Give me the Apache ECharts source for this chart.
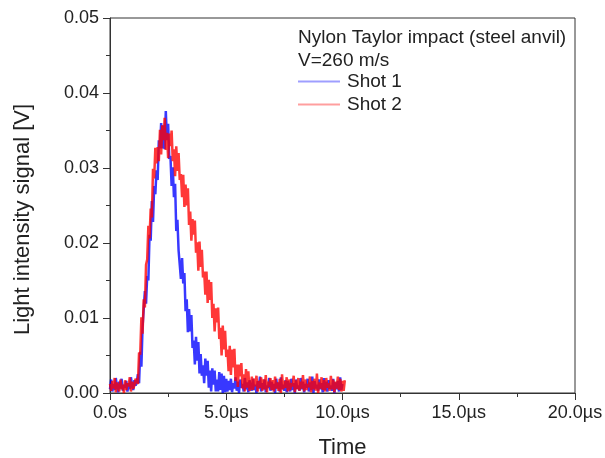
<!DOCTYPE html>
<html>
<head>
<meta charset="utf-8">
<script src="https://cdn.jsdelivr.net/npm/echarts@6/dist/echarts.min.js"></script>
<style>
html,body{margin:0;padding:0;background:#fff;}
#chart{width:605px;height:458px;}
</style>
</head>
<body>
<div id="chart"></div>
<script>
// Sample interval of the recorded signals, in microseconds
const sampleInterval = 0.05;
// Shot 1 signal, mV, one value per sample starting at t = 0
const shot1 = [
0.5,1.8,0.2,1.2,0.4,2.0,0.8,0.1,1.5,0.6,1.9,0.3,1.1,0.7,1.6,0.2,1.3,0.5,2.1,0.9,0.4,1.7,1.0,1.4,
2.5,1.3,5.5,3.5,8.8,8.6,13.6,11.9,15.6,15.0,21.1,20.3,25.6,22.8,27.6,26.5,
29.7,28.4,33.7,32.6,36.0,32.6,35.7,32.5,37.6,33.7,35.9,31.2,31.6,27.6,30.1,26.1,27.9,21.6,23.1,19.0,
19.2,15.2,18.0,14.6,16.0,10.9,12.5,8.1,11.2,8.2,10.4,6.0,7.0,3.8,7.5,4.3,6.8,2.6,5.2,2.3,
3.7,1.3,4.6,2.3,4.3,0.7,3.0,0.2,3.3,1.1,3.0,0.2,1.8,0.2,2.8,0.4,2.6,0.0,2.3,0.1,1.9,
0.2,1.6,0.4,1.9,0.1,1.3,0.6,2.1,0.3,1.5,
0.0,1.8,0.7,1.2,0.2,2.0,0.5,1.4,0.1,1.7,
0.8,0.3,1.9,0.4,1.1,0.0,1.6,0.6,2.2,0.2,
1.3,0.5,1.8,0.1,1.0,0.7,2.0,0.3,1.5,0.4,
1.2,0.0,1.9,0.6,1.4,0.2,2.1,0.5,1.1,0.3,
1.7,0.1,1.6,0.8,0.2,1.9,0.4,1.3,0.0,1.8,
0.6,1.0,0.3,2.0,0.5,1.5,0.1,1.2,0.7,1.9,
0.2,1.4,0.4,2.2,0.0,1.6,0.6,1.1,0.3,1.8,
0.5,1.3,0.1,2.0,0.4,1.5,0.2,1.7,0.6,1.0,
0.3,1.9,0.0,1.4,0.5,1.6,0.2,2.1,0.4,1.2
];
// Shot 2 signal, mV, one value per sample starting at t = 0
const shot2 = [
1.2,0.3,1.6,0.6,2.0,0.1,1.4,0.8,0.2,1.8,0.5,1.1,0.0,1.7,0.4,1.3,0.9,2.1,0.2,1.5,0.6,1.0,1.9,
2.0,1.2,5.4,5.1,10.1,7.9,12.5,11.4,17.1,17.8,22.3,20.6,24.6,23.4,29.9,28.6,32.7,
30.6,32.8,30.9,35.1,31.8,35.7,33.7,36.7,32.4,34.7,31.3,34.6,32.9,35.0,30.9,32.5,28.9,32.9,29.6,32.0,
28.4,29.2,26.1,29.1,24.8,27.8,25.0,27.3,22.4,24.2,20.3,23.2,21.1,23.0,18.7,20.1,16.3,20.2,16.8,19.1,
15.4,16.2,13.1,16.2,12.0,15.1,12.4,14.8,10.0,11.9,8.2,11.3,9.4,11.4,7.2,8.7,5.0,9.0,5.8,8.3,
4.8,5.8,2.9,6.3,2.4,5.8,3.4,5.9,1.6,3.8,0.8,3.8,2.2,4.0,0.6,2.5,0.2,3.2,0.7,2.9,0.3,
0.6,2.2,0.4,1.9,0.9,2.3,0.2,1.6,0.7,2.1,
0.3,1.8,0.5,2.4,0.1,1.5,0.8,2.0,0.4,1.7,
0.2,2.2,0.6,1.4,0.3,1.9,0.0,2.5,0.5,1.6,
0.7,2.1,0.2,1.8,0.4,1.3,0.9,2.3,0.1,1.7,
0.5,2.0,0.3,1.5,0.6,2.4,0.2,1.8,0.4,1.2,
0.8,2.2,0.1,1.6,0.5,1.9,0.3,2.6,0.0,1.4,
0.6,2.1,0.4,1.7,0.2,2.0,0.7,1.3,0.3,2.3,
0.5,1.8,0.1,1.5,0.6,2.2,0.4,1.9,0.2,1.6,
0.3,1.7
];
const seriesNames = ["Shot 1", "Shot 2"];
const seriesColors = ["rgba(0,0,255,0.78)", "rgba(255,0,0,0.78)"];
const legendColors = ["rgba(0,0,255,0.38)", "rgba(255,0,0,0.38)"];
const xTickValues = [0, 5, 10, 15, 20];
const xTickLabels = ["0.0s", "5.0\u00b5s", "10.0\u00b5s", "15.0\u00b5s", "20.0\u00b5s"];
const yTickValues = [0, 0.01, 0.02, 0.03, 0.04, 0.05];
const yTickLabels = ["0.00", "0.01", "0.02", "0.03", "0.04", "0.05"];
const legendTitle = "Nylon Taylor impact (steel anvil)\nV=260 m/s";

function toPairs(arr) {
  return arr.map((mv, i) => [i * sampleInterval, mv / 1000]);
}
function lookup(values, labels, v) {
  for (let i = 0; i < values.length; i++) {
    if (Math.abs(values[i] - v) < 1e-9) return labels[i];
  }
  return '';
}

const FONT = 'Liberation Sans, Arial, sans-serif';
const chart = echarts.init(document.getElementById('chart'), null, {renderer: 'canvas'});
chart.setOption({
  animation: false,
  backgroundColor: '#fff',
  textStyle: {fontFamily: FONT},
  grid: {left: 110, right: 30, top: 18, bottom: 65, containLabel: false, outerBoundsMode: 'none',
         show: true, borderColor: '#333', borderWidth: 1, backgroundColor: 'transparent'},
  title: {
    text: legendTitle,
    left: 298, top: 26, padding: 0,
    textStyle: {fontFamily: FONT, fontSize: 19, fontWeight: 'normal', color: '#222', lineHeight: 23}
  },
  legend: {
    data: seriesNames.map((n, i) => ({name: n, itemStyle: {color: legendColors[i]}})),
    orient: 'vertical',
    left: 298, top: 72, padding: 0,
    icon: 'rect',
    itemWidth: 42, itemHeight: 2, itemGap: 4,
    textStyle: {fontFamily: FONT, fontSize: 19, color: '#222', padding: [0, 0, 0, 2]}
  },
  xAxis: {
    type: 'value', min: 0, max: 20, interval: 5,
    name: 'Time', nameLocation: 'middle', nameGap: 44,
    nameTextStyle: {fontFamily: FONT, fontSize: 22, color: '#222'},
    axisLine: {show: true, lineStyle: {color: '#333', width: 1}},
    axisTick: {show: true, length: 7, inside: false, lineStyle: {color: '#333'}},
    minorTick: {show: true, splitNumber: 2, length: 4, lineStyle: {color: '#333'}},
    splitLine: {show: false},
    axisLabel: {fontFamily: FONT, fontSize: 18, color: '#222', margin: 11,
      formatter: v => lookup(xTickValues, xTickLabels, v)}
  },
  yAxis: {
    type: 'value', min: 0, max: 0.05, interval: 0.01,
    name: 'Light intensity signal [V]', nameLocation: 'middle', nameGap: 76,
    nameTextStyle: {fontFamily: FONT, fontSize: 22, color: '#222', padding: [0, 28, 0, 0]},
    axisLine: {show: true, lineStyle: {color: '#333', width: 1}},
    axisTick: {show: true, length: 7, inside: false, lineStyle: {color: '#333'}},
    minorTick: {show: true, splitNumber: 2, length: 4, lineStyle: {color: '#333'}},
    splitLine: {show: false},
    axisLabel: {fontFamily: FONT, fontSize: 18, color: '#222', margin: 11,
      formatter: v => lookup(yTickValues, yTickLabels, v)}
  },
  series: [
    {name: seriesNames[0], type: 'line', data: toPairs(shot1), symbol: 'none',
     lineStyle: {width: 2.5, color: seriesColors[0]}, itemStyle: {color: seriesColors[0]}},
    {name: seriesNames[1], type: 'line', data: toPairs(shot2), symbol: 'none',
     lineStyle: {width: 2.5, color: seriesColors[1]}, itemStyle: {color: seriesColors[1]}}
  ]
});
</script>
</body>
</html>
